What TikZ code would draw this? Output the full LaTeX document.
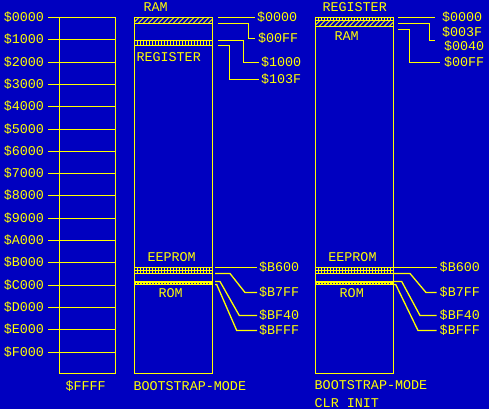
\documentclass[tikz,border=0pt]{standalone}
\usepackage{fontspec}
\setmainfont{Liberation Mono}
\definecolor{bg}{RGB}{0,0,192}
\definecolor{ylw}{RGB}{255,255,0}
\begin{document}
\begin{tikzpicture}[x=1bp,y=-1bp,
  every node/.style={inner sep=0pt, outer sep=0pt, text=ylw, font=\fontsize{13.4bp}{15bp}\selectfont},
  lbl/.style={anchor=west},
  rlbl/.style={anchor=east},
  ln/.style={draw=ylw, line width=1.3bp},
  thinln/.style={draw=ylw, line width=1bp},
  colbox/.style={draw=ylw, line width=1.3bp, minimum height=356bp}]
\fill[bg] (0,0) rectangle (489,409);
\useasboundingbox (0,0) rectangle (489,409);

% ---------- left column ----------
\node[colbox, minimum width=56bp] (colA) at (87.5,195.5) {};
\foreach \i/\t in {0/0,1/1,2/2,3/3,4/4,5/5,6/6,7/7,8/8,9/9,10/A,11/B,12/C,13/D,14/E,15/F}{
  \pgfmathsetmacro{\yy}{int(17.5+22.3*\i)+0.5}
  \coordinate (t\i) at (48,\yy);
  \node[rlbl] (a\i) at (44,\yy) {\$\t000};
  \draw[ln] (t\i) -- (t\i -| colA.east);
}
\node[lbl] (aFFFF) at (65.5,386) {\$FFFF};

% ---------- middle column ----------
\node[colbox, minimum width=78bp] (colB) at (173.5,195.5) {};
% RAM hatch
\begin{scope}
  \clip (134.5,17.5) rectangle (212.5,23.5);
  \foreach \x in {128,133,...,215} \draw[thinln] (\x,23.5) -- (\x+6,17.5);
\end{scope}
\draw[ln] (134.5,23.5) -- (212.5,23.5);
% register band
\draw[ln] (134.5,40.5) rectangle (212.5,45.5);
\foreach \x in {137.5,140.5,...,211} \draw[thinln] (\x,40.5) -- (\x,45.5);
% EEPROM band
\draw[ln] (134.5,267.5) rectangle (212.5,273.5);
\draw[thinln] (134.5,270.5) -- (212.5,270.5);
\foreach \x in {137.5,140.5,...,211} \draw[thinln] (\x,267.5) -- (\x,273.5);
% ROM band
\fill[ylw] (134,281) rectangle (213,285);
\draw[bg, line width=1bp, dash pattern=on 1bp off 2bp] (136,283.5) -- (211,283.5);

\node[lbl] (bRAM) at (143.5,7.3) {RAM};
\node[lbl] (bREG) at (136.5,57.3) {REGISTER};
\node[lbl] (bEE) at (147.5,257.3) {EEPROM};
\node[lbl] (bROM) at (158.5,293.3) {ROM};
\node[lbl] (bBOOT) at (133.5,386) {BOOTSTRAP-MODE};

\node[lbl] (m1) at (257,17.5) {\$0000};
\node[lbl] (m2) at (258,38.5) {\$00FF};
\node[lbl] (m3) at (261,62.5) {\$1000};
\node[lbl] (m4) at (261,79.5) {\$103F};
\node[lbl] (m5) at (259,267.5) {\$B600};
\node[lbl] (m6) at (259,292.5) {\$B7FF};
\node[lbl] (m7) at (259,315.5) {\$BF40};
\node[lbl] (m8) at (259,330.5) {\$BFFF};

\coordinate (ms1) at (218,17.5);
\coordinate (ms2) at (218,23.5);  \coordinate (mb2) at (248.5,38.5);
\coordinate (ms3) at (218,40.5);  \coordinate (mb3) at (243.5,62.5);
\coordinate (ms4) at (218,45.5);  \coordinate (mb4) at (229.5,79.5);
\draw[ln] (ms1) -- ([xshift=-2bp]m1.west);
\draw[ln] (ms2) -| (mb2) -- ([xshift=-3bp]m2.west);
\draw[ln] (ms3) -| (mb3) -- ([xshift=-2bp]m3.west);
\draw[ln] (ms4) -| (mb4) -- ([xshift=-2bp]m4.west);

\coordinate (ms5) at (215,267.5);
\coordinate (ms6) at (215,273.5); \coordinate (mk6a) at (230,273.5); \coordinate (mk6b) at (245,292.5);
\coordinate (ms7) at (215,281.5); \coordinate (mk7a) at (220,281.5); \coordinate (mk7b) at (239.3,315.5);
\coordinate (ms8) at (215,284.5); \coordinate (mk8a) at (216.7,284.5); \coordinate (mk8b) at (236.7,330.5);
\draw[ln] (ms5) -- ([xshift=-2bp]m5.west);
\draw[ln] (ms6) -- (mk6a) -- (mk6b) -- ([xshift=-2bp]m6.west);
\draw[ln] (ms7) -- (mk7a) -- (mk7b) -- ([xshift=-2bp]m7.west);
\draw[ln] (ms8) -- (mk8a) -- (mk8b) -- ([xshift=-2bp]m8.west);

% ---------- right column ----------
\node[colbox, minimum width=78bp] (colC) at (354.5,195.5) {};
% register band
\foreach \x in {318.5,321.5,...,392} \draw[thinln] (\x,17.5) -- (\x,20.5);
\draw[ln] (315.5,20.5) -- (393.5,20.5);
% RAM hatch
\begin{scope}
  \clip (315.5,20.5) rectangle (393.5,26.5);
  \foreach \x in {309,314,...,396} \draw[thinln] (\x,26.5) -- (\x+6,20.5);
\end{scope}
\draw[ln] (315.5,26.5) -- (393.5,26.5);
% EEPROM band
\draw[ln] (315.5,267.5) rectangle (393.5,273.5);
\draw[thinln] (315.5,270.5) -- (393.5,270.5);
\foreach \x in {318.5,321.5,...,392} \draw[thinln] (\x,267.5) -- (\x,273.5);
% ROM band
\fill[ylw] (315,281) rectangle (394,285);
\draw[bg, line width=1bp, dash pattern=on 1bp off 2bp] (317,283.5) -- (392,283.5);

\node[lbl] (cREG) at (322.5,7) {REGISTER};
\node[lbl] (cRAM) at (334.5,35.7) {RAM};
\node[lbl] (cEE) at (328.3,257.3) {EEPROM};
\node[lbl] (cROM) at (339.7,293.3) {ROM};
\node[lbl] (cBOOT) at (314.7,385) {BOOTSTRAP-MODE};
\node[lbl] (cCLR) at (314.7,402.7) {CLR INIT};

\node[lbl] (r1) at (442,17.5) {\$0000};
\node[lbl] (r2) at (442,32.3) {\$003F};
\node[lbl] (r2b) at (444,46) {\$0040};
\node[lbl] (r3) at (444,62.5) {\$00FF};
\node[lbl] (r5) at (439.7,267.5) {\$B600};
\node[lbl] (r6) at (439.7,292.5) {\$B7FF};
\node[lbl] (r7) at (439.7,315.5) {\$BF40};
\node[lbl] (r8) at (439.7,330.5) {\$BFFF};

\coordinate (rs1) at (398,17.5);
\coordinate (rs2) at (398,23.5); \coordinate (rb2) at (429.5,40.5); \coordinate (re2) at (435,40.5);
\coordinate (rs3) at (398,29.5); \coordinate (rb3) at (409.5,62.5);
\draw[ln] (rs1) -- ([xshift=-7bp]r1.west);
\draw[ln] (rs2) -| (rb2) -- (re2);
\draw[ln] (rs3) -| (rb3) -- ([xshift=-4bp]r3.west);

\coordinate (rs5) at (394,267.5);
\coordinate (rs6) at (394,273.5); \coordinate (rk6a) at (410,273.5); \coordinate (rk6b) at (426,292.5);
\coordinate (rs7) at (394,281.5); \coordinate (rk7a) at (401.7,281.5); \coordinate (rk7b) at (420,315.5);
\coordinate (rs8) at (394,284.5); \coordinate (rk8a) at (395.7,284.5); \coordinate (rk8b) at (418,330.5);
\draw[ln] (rs5) -- ([xshift=-3bp]r5.west);
\draw[ln] (rs6) -- (rk6a) -- (rk6b) -- ([xshift=-3bp]r6.west);
\draw[ln] (rs7) -- (rk7a) -- (rk7b) -- ([xshift=-3bp]r7.west);
\draw[ln] (rs8) -- (rk8a) -- (rk8b) -- ([xshift=-3bp]r8.west);
\end{tikzpicture}
\end{document}
